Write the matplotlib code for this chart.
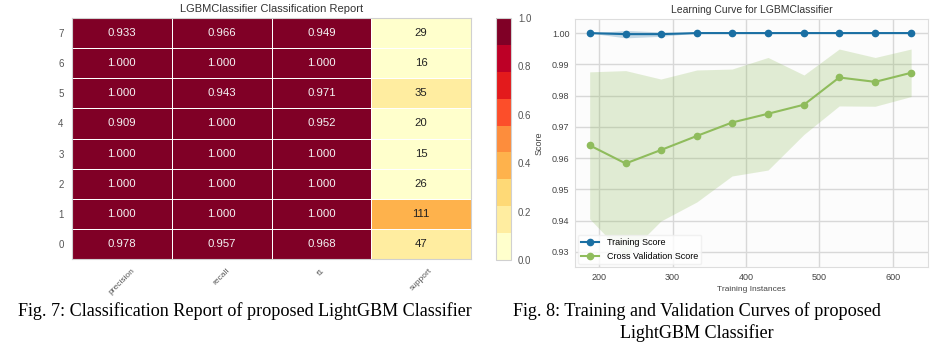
import numpy as np
import matplotlib
matplotlib.use("Agg")
import matplotlib.pyplot as plt
from matplotlib.colors import BoundaryNorm

# Classification report values (rows = class 0..7)
classes = ["0", "1", "2", "3", "4", "5", "6", "7"]
metrics = ["precision", "recall", "f1", "support"]
precision = [0.978, 1.000, 1.000, 1.000, 0.909, 1.000, 1.000, 0.933]
recall = [0.957, 1.000, 1.000, 1.000, 1.000, 0.943, 1.000, 0.966]
f1 = [0.968, 1.000, 1.000, 1.000, 0.952, 0.971, 1.000, 0.949]
support = [47, 111, 26, 15, 20, 35, 16, 29]

# Learning curve values
train_sizes = [187, 236, 284, 333, 381, 430, 479, 527, 576, 625]
train_mean = [1.0, 0.99966, 0.99966, 1.0, 1.0, 1.0, 1.0, 1.0, 1.0, 1.0]
train_std = [0.0, 0.0012, 0.0007, 0.0, 0.0, 0.0, 0.0, 0.0, 0.0, 0.0]
cv_mean = [0.9641, 0.9583, 0.9626, 0.9671, 0.9714, 0.9742, 0.9771, 0.9858, 0.9844, 0.9873]
cv_std = [0.0235, 0.0297, 0.0227, 0.0211, 0.0171, 0.0180, 0.0095, 0.0091, 0.0078, 0.0076]

W, H = 943, 356
plt.rcParams['font.family'] = ['Liberation Sans', 'DejaVu Sans']
fig = plt.figure(figsize=(W / 100, H / 100), dpi=100)
fig.patch.set_facecolor('white')


def box(l, t, r, b):
    return [l / W, (H - b) / H, (r - l) / W, (b - t) / H]


# ---- Classification report heatmap ----
ax1 = fig.add_axes(box(72, 18, 471, 259))
scores = np.array([precision, recall, f1]).T
sup = np.array(support, dtype=float)
color_vals = np.column_stack([scores, sup / sup.sum()])

cmap = plt.get_cmap('YlOrRd', 9)
norm = BoundaryNorm(np.linspace(0, 1, 10), 9)
mesh = ax1.pcolormesh(color_vals, cmap=cmap, norm=norm, edgecolors='white', linewidth=0.6)
for i in range(len(classes)):
    for j in range(len(metrics)):
        if j < 3:
            txt = "{:0.3f}".format(scores[i, j])
        else:
            txt = str(support[i])
        c = '#f5f5f5' if color_vals[i, j] > 0.6 else '#222222'
        ax1.text(j + 0.5, i + 0.5, txt, ha='center', va='center', color=c, fontsize=8.2)

ax1.set_xticks(np.arange(len(metrics)) + 0.5)
ax1.set_xticklabels(metrics, rotation=45, fontsize=6, color='#555555')
ax1.set_yticks(np.arange(len(classes)) + 0.5)
ax1.set_yticklabels(classes, fontsize=7, color='#555555')
ax1.tick_params(length=0, pad=6)
for s in ax1.spines.values():
    s.set_color('#d0d0d0')
ax1.set_title("LGBMClassifier Classification Report", fontsize=8, color='#333333', pad=4)

cax = fig.add_axes(box(496, 18, 511, 260))
cb = fig.colorbar(mesh, cax=cax, ticks=[0.0, 0.2, 0.4, 0.6, 0.8, 1.0])
cb.minorticks_off()
cb.ax.set_yticklabels(["0.0", "0.2", "0.4", "0.6", "0.8", "1.0"])
cb.ax.tick_params(length=0, labelsize=7, labelcolor='#555555', pad=5)
cb.outline.set_edgecolor('#d0d0d0')

# ---- Learning curve ----
ax2 = fig.add_axes(box(575, 19, 928, 267))
ax2.set_facecolor('#fcfcfc')
blue = '#1a6fa3'
green = '#8fbc5c'
tm, ts = np.array(train_mean), np.array(train_std)
cm, cs = np.array(cv_mean), np.array(cv_std)
ax2.fill_between(train_sizes, tm - ts, tm + ts, color=blue, alpha=0.25, linewidth=0)
ax2.fill_between(train_sizes, cm - cs, cm + cs, color=green, alpha=0.25, linewidth=0)
ax2.plot(train_sizes, train_mean, 'o-', color=blue, markersize=4.5, linewidth=1.5, label="Training Score")
ax2.plot(train_sizes, cv_mean, 'o-', color=green, markersize=4.5, linewidth=1.5, label="Cross Validation Score")
ax2.set_xlim(167, 648)
ax2.set_ylim(0.9252, 1.0045)
ax2.set_xticks([200, 300, 400, 500, 600])
ax2.set_yticks([0.93, 0.94, 0.95, 0.96, 0.97, 0.98, 0.99, 1.00])
ax2.yaxis.set_major_formatter(matplotlib.ticker.FormatStrFormatter('%.2f'))
ax2.grid(True, color='#d8d8d8', linewidth=1)
ax2.set_axisbelow(True)
ax2.tick_params(length=0, labelsize=6.5, labelcolor='#444444', pad=4)
for s in ax2.spines.values():
    s.set_color('#dddddd')
ax2.set_title("Learning Curve for LGBMClassifier", fontsize=7.5, color='#333333', pad=4)
ax2.set_xlabel("Training Instances", fontsize=6, color='#444444', labelpad=3)
ax2.set_ylabel("Score", fontsize=6.5, color='#444444', labelpad=6)
leg = ax2.legend(loc='lower left', fontsize=6.5, frameon=True, borderaxespad=0.3)
leg.get_frame().set_facecolor('white')
leg.get_frame().set_edgecolor('#eeeeee')

# ---- Captions ----
fig.text(18 / W, 1 - 311 / H, "Fig. 7: Classification Report of proposed LightGBM Classifier",
         family='Liberation Serif', fontsize=13.05, ha='left', va='center')
fig.text(697 / W, 1 - 322 / H, "Fig. 8: Training and Validation Curves of proposed\nLightGBM Classifier",
         family='Liberation Serif', fontsize=13.05, ha='center', va='center',
         multialignment='center', linespacing=1.25)

fig.savefig("out.png", dpi=100)
